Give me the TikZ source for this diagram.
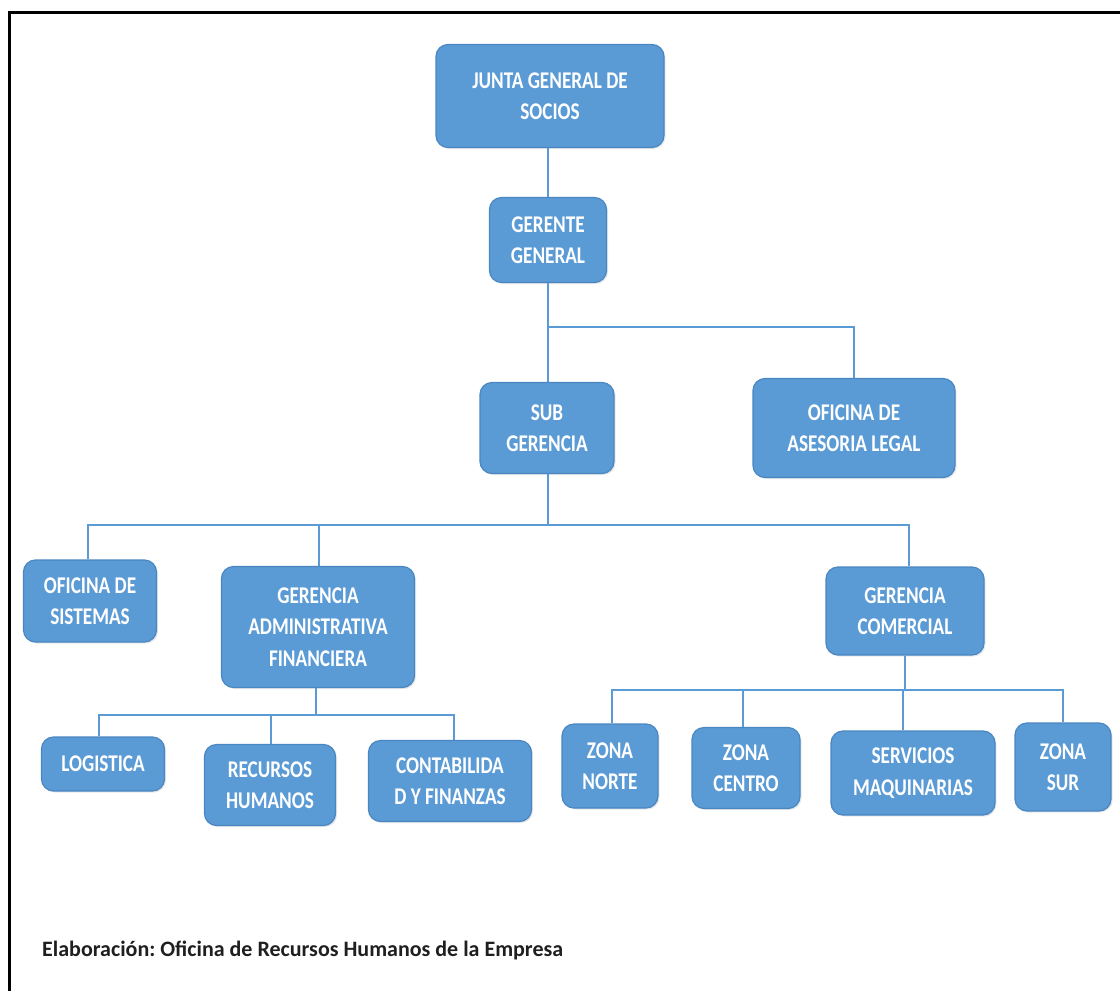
\documentclass[tikz,border=0pt]{standalone}
\usepackage{fontspec}
\setmainfont{Carlito}
\newfontfamily\boxfont[FakeStretch=0.8]{Carlito}
\usetikzlibrary{shadows}
\definecolor{boxblue}{HTML}{5B9BD5}
\definecolor{boxedge}{HTML}{4A87C2}
\definecolor{linkblue}{HTML}{5B9BD5}
\frenchspacing
\begin{document}
\begin{tikzpicture}[x=1pt,y=-1pt,
  unit/.style={draw=boxedge, line width=1.2pt, fill=boxblue, rounded corners=12pt,
    text=white, font=\boxfont\bfseries\fontsize{24}{31.5}\selectfont, align=center, inner sep=0pt,
    drop shadow={opacity=0.18, shadow xshift=1.5pt, shadow yshift=-1.5pt}},
  link/.style={draw=linkblue, line width=2pt}]
\useasboundingbox (0,0) rectangle (1120,991);
\fill[white] (0,0) rectangle (1120,991);
% frame
\draw[line width=3.5pt] (9.5,991) -- (9.5,12.5) -- (1120,12.5);

% nodes
\node[unit, minimum width=228, minimum height=103] (junta) at (550,96) {JUNTA GENERAL DE\\SOCIOS};
\node[unit, minimum width=117, minimum height=85] (gerente) at (548,240) {GERENTE\\GENERAL};
\node[unit, minimum width=134, minimum height=91] (sub) at (547,428) {SUB\\GERENCIA};
\node[unit, minimum width=202, minimum height=99] (asesoria) at (854,428) {OFICINA DE\\ASESORIA LEGAL};
\node[unit, minimum width=133, minimum height=82] (sistemas) at (90,601) {OFICINA DE\\SISTEMAS};
\node[unit, minimum width=193, minimum height=121] (admin) at (318,627) {GERENCIA\\ADMINISTRATIVA\\FINANCIERA};
\node[unit, minimum width=158, minimum height=88] (comercial) at (905,611) {GERENCIA\\COMERCIAL};
\node[unit, minimum width=123, minimum height=54] (logistica) at (103,764) {LOGISTICA};
\node[unit, minimum width=131, minimum height=81] (rrhh) at (270,785) {RECURSOS\\HUMANOS};
\node[unit, minimum width=163, minimum height=81] (contab) at (450,781) {CONTABILIDA\\D Y FINANZAS};
\node[unit, minimum width=96, minimum height=84] (norte) at (610,766) {ZONA\\NORTE};
\node[unit, minimum width=108, minimum height=81] (centro) at (746,768) {ZONA\\CENTRO};
\node[unit, minimum width=164, minimum height=84] (servicios) at (913,773) {SERVICIOS\\MAQUINARIAS};
\node[unit, minimum width=96, minimum height=88] (sur) at (1063,767) {ZONA\\SUR};

\node[anchor=west, inner sep=0pt, text=black!88, font=\bfseries\fontsize{22}{26}\selectfont] (caption) at (42,950)
  {Elaboración: Oficina de Recursos Humanos de la Empresa};

% bus coordinates
\coordinate (b1) at (548,327);
\coordinate (b2) at (548,525);
\coordinate (b3) at (316,715);
\coordinate (b4) at (905,690);

% connectors
\draw[link] (gerente.north) -- (gerente.north |- junta.south);
\draw[link] (gerente.south) -- (gerente.south |- sub.north);
\draw[link] (b1) -| (asesoria.north);
\draw[link] (sub.south -| b2) -- (b2);
\draw[link] ([xshift=-2pt]sistemas.north) |- (b2) -| ([xshift=4pt]comercial.north);
\draw[link] ([xshift=1pt]admin.north) -- ([xshift=1pt]admin.north |- b2);
\draw[link] ([xshift=-2pt]admin.south) -- (b3);
\draw[link] ([xshift=-4pt]logistica.north) |- (b3) -| ([xshift=4pt]contab.north);
\draw[link] ([xshift=1pt]rrhh.north) -- ([xshift=1pt]rrhh.north |- b3);
\draw[link] (comercial.south) -- (b4);
\draw[link] ([xshift=2pt]norte.north) |- (b4) -| (sur.north);
\draw[link] ([xshift=-3pt]centro.north) -- ([xshift=-3pt]centro.north |- b4);
\draw[link] ([xshift=-10pt]servicios.north) -- ([xshift=-10pt]servicios.north |- b4);
\end{tikzpicture}
\end{document}
